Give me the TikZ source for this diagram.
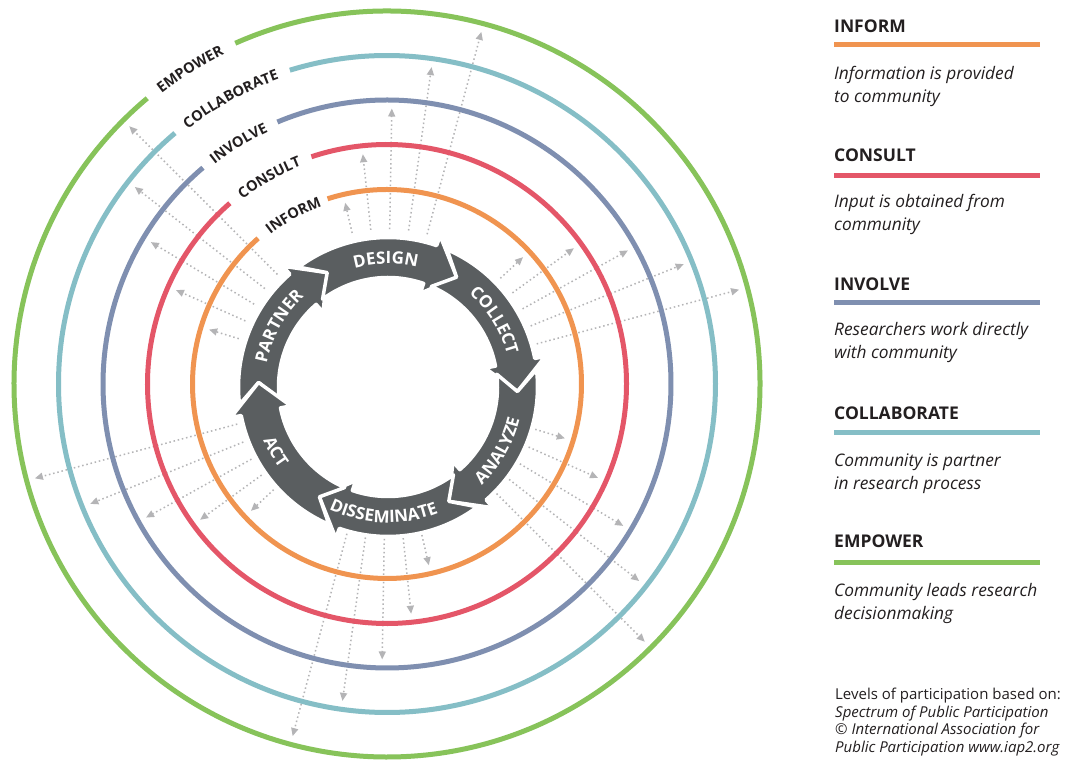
\documentclass[tikz,border=0pt]{standalone}
\usepackage{fontspec}
\setmainfont{Open Sans}
\usetikzlibrary{calc,arrows.meta,decorations.text}
\definecolor{cInform}{RGB}{240,148,80}
\definecolor{cConsult}{RGB}{228,86,104}
\definecolor{cInvolve}{RGB}{127,143,176}
\definecolor{cCollab}{RGB}{133,190,198}
\definecolor{cEmpower}{RGB}{135,195,90}
\definecolor{ringgray}{RGB}{90,94,96}
\definecolor{dotgray}{RGB}{180,180,182}
\definecolor{txtdark}{RGB}{35,31,32}
\newcommand\labfont{\fontsize{14.5}{14.5}\selectfont\bfseries\color{txtdark}}
\newcommand\ringfont{\fontsize{17}{17}\selectfont\bfseries\color{white}}
\newcommand\cycleseg[2]{%
  \pgfmathsetmacro\sa{#1+8.7}%
  \pgfmathsetmacro\hb{#2+13}%
  \path[fill=ringgray, draw=white, line width=3.5pt, line join=round]
    ($(R)+(\sa:149.5)$) arc[start angle=\sa, end angle=\hb, radius=149.5]
    -- ($(R)+(\hb:160)$) -- ($(R)+(#2:129.5)$) -- ($(R)+(\hb:99)$)
    -- ($(R)+(\hb:109.5)$) arc[start angle=\hb, end angle=\sa, radius=109.5]
    -- ($(R)+(#1:129.5)$) -- cycle;
}
\tikzset{
  dotarr/.style={dotgray, line width=1.5pt, dash pattern=on 1.5pt off 2.8pt, -{Triangle[length=8pt,width=7pt]}},
  level/.style={line width=5pt},
  legh/.style={anchor=base west, inner sep=0pt, font=\fontsize{17.5}{17.5}\selectfont\bfseries, text=txtdark},
  legd/.style={anchor=base west, inner sep=0pt, font=\fontsize{17.3}{17.3}\selectfont\itshape, text=txtdark},
  foot/.style={anchor=base west, inner sep=0pt, font=\fontsize{15}{15}\selectfont, text=txtdark},
  footi/.style={foot, font=\fontsize{15}{15}\selectfont\itshape},
}
\begin{document}
\begin{tikzpicture}[x=1pt,y=1pt]
\fill[white] (0,0) rectangle (1065,760);
\useasboundingbox (0,0) rectangle (1065,760);
\coordinate (C) at (387,376);
\coordinate (R) at (388,373);

% radial dotted arrows
\foreach \k in {0,...,5}{
  \foreach \j/\rt in {0/186,1/231,2/275.5,3/320,4/364.5}{
    \pgfmathsetmacro\aa{103-7*\j-60*\k}
    \coordinate (s\k\j) at ($(C)+(\aa:155)$);
    \coordinate (e\k\j) at ($(C)+(\aa:\rt)$);
    \draw[dotarr] (s\k\j) -- (e\k\j);
  }
}

% level circles
\draw[level, cInform]  ($(C)+(131.5:194.5)$) arc[start angle=131.5, end angle=467.8, radius=194.5];
\draw[level, cConsult] ($(C)+(131:239.5)$) arc[start angle=131, end angle=468.4, radius=239.5];
\draw[level, cInvolve] ($(C)+(130.4:284)$) arc[start angle=130.4, end angle=472.7, radius=284];
\draw[level, cCollab]  ($(C)+(130.2:328.5)$) arc[start angle=130.2, end angle=467.2, radius=328.5];
\draw[level, cEmpower] ($(C)+(130:373)$) arc[start angle=130, end angle=474, radius=373];

% level labels on arcs
\path[decorate, decoration={text along path, text={|\labfont|INFORM}}]
  ($(C)+(128:189.3)$) arc[start angle=128, end angle=80, radius=189.3];
\path[decorate, decoration={text along path, text={|\labfont|CONSULT}}]
  ($(C)+(128:234.3)$) arc[start angle=128, end angle=80, radius=234.3];
\path[decorate, decoration={text along path, text={|\labfont|INVOLVE}}]
  ($(C)+(128.2:278.8)$) arc[start angle=128.2, end angle=80, radius=278.8];
\path[decorate, decoration={text along path, text={|\labfont|COLLABORATE}}]
  ($(C)+(128:323.3)$) arc[start angle=128, end angle=80, radius=323.3];
\path[decorate, decoration={text along path, text={|\labfont|EMPOWER}}]
  ($(C)+(127.8:367.8)$) arc[start angle=127.8, end angle=80, radius=367.8];

% cycle arrows
\foreach \S/\T in {178/118, 118/58, 58/-2, -2/-62, -62/-122, -122/-182}{
  \cycleseg{\S}{\T}
}

% cycle labels
\path[decorate, decoration={text along path, text align=center, text={|\ringfont|PARTNER}}]
  ($(R)+(196:123.4)$) arc[start angle=196, end angle=106, radius=123.4];
\path[decorate, decoration={text along path, text align=center, text={|\ringfont|DESIGN}}]
  ($(R)+(136:123.4)$) arc[start angle=136, end angle=46, radius=123.4];
\path[decorate, decoration={text along path, text align=center, text={|\ringfont|COLLECT}}]
  ($(R)+(77:123.4)$) arc[start angle=77, end angle=-13, radius=123.4];
\path[decorate, decoration={text along path, text align=center, text={|\ringfont|ANALYZE}}]
  ($(R)+(-75:135.6)$) arc[start angle=-75, end angle=15, radius=135.6];
\path[decorate, decoration={text along path, text align=center, text={|\ringfont|DISSEMINATE}}]
  ($(R)+(-137:135.6)$) arc[start angle=-137, end angle=-47, radius=135.6];
\path[decorate, decoration={text along path, text align=center, text={|\ringfont|ACT}}]
  ($(R)+(-195:135.6)$) arc[start angle=-195, end angle=-105, radius=135.6];

% legend
\node[legh] (hInform) at (834,727) {INFORM};
\coordinate (lInformA) at (834,715); \coordinate (lInformB) at (1040,715);
\draw[level, cInform] (lInformA) -- (lInformB);
\node[legd] (dInformA) at (834,680) {Information is provided};
\node[legd] (dInformB) at (834,657) {to community};

\node[legh] (hConsult) at (834,598) {CONSULT};
\coordinate (lConsultA) at (834,584); \coordinate (lConsultB) at (1040,584);
\draw[level, cConsult] (lConsultA) -- (lConsultB);
\node[legd] (dConsultA) at (834,552) {Input is obtained from};
\node[legd] (dConsultB) at (834,529) {community};

\node[legh] (hInvolve) at (834,469) {INVOLVE};
\coordinate (lInvolveA) at (834,457); \coordinate (lInvolveB) at (1040,457);
\draw[level, cInvolve] (lInvolveA) -- (lInvolveB);
\node[legd] (dInvolveA) at (834,424) {Researchers work directly};
\node[legd] (dInvolveB) at (834,401) {with community};

\node[legh] (hCollab) at (834,340) {COLLABORATE};
\coordinate (lCollabA) at (834,327); \coordinate (lCollabB) at (1040,327);
\draw[level, cCollab] (lCollabA) -- (lCollabB);
\node[legd] (dCollabA) at (834,293) {Community is partner};
\node[legd] (dCollabB) at (834,270) {in research process};

\node[legh] (hEmpower) at (834,212) {EMPOWER};
\coordinate (lEmpowerA) at (834,197); \coordinate (lEmpowerB) at (1040,197);
\draw[level, cEmpower] (lEmpowerA) -- (lEmpowerB);
\node[legd] (dEmpowerA) at (834,163) {Community leads research};
\node[legd] (dEmpowerB) at (834,140) {decisionmaking};

\node[foot]  (fA) at (835,60) {Levels of participation based on:};
\node[footi] (fB) at (835,42.5) {Spectrum of Public Participation};
\node[footi] (fC) at (835,25) {© International Association for};
\node[footi] (fD) at (835,7.5) {Public Participation www.iap2.org};
\end{tikzpicture}
\end{document}
